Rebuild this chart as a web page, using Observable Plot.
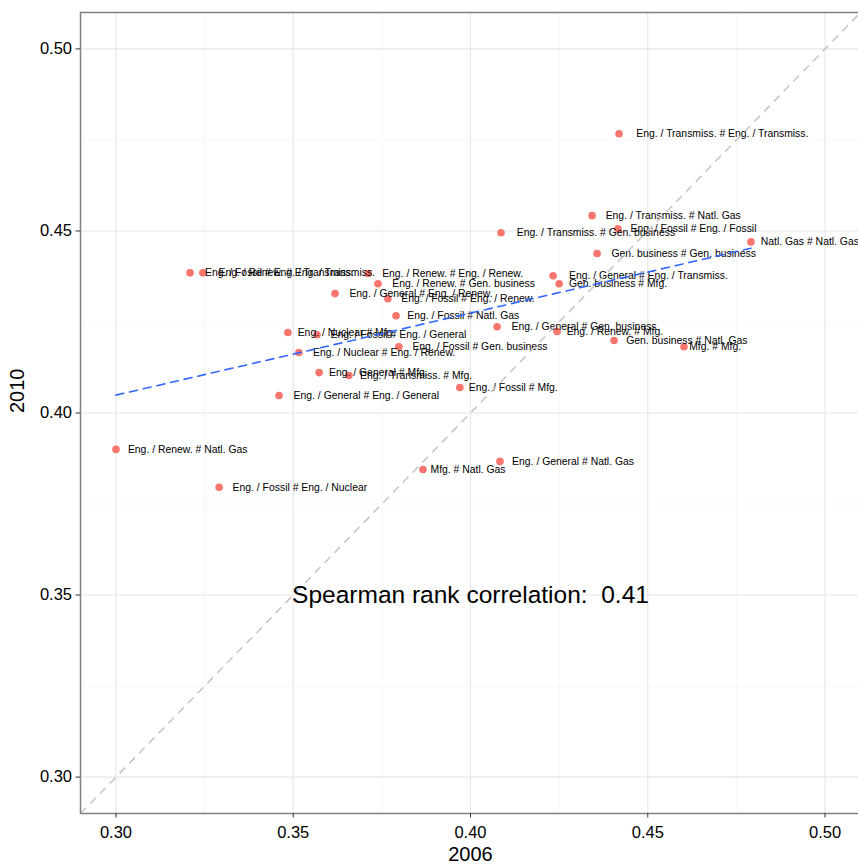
<!DOCTYPE html>
<html>
<head>
<meta charset="utf-8">
<script src="https://cdn.jsdelivr.net/npm/d3@7"></script>
<script src="https://cdn.jsdelivr.net/npm/@observablehq/plot@0.6"></script>
<style>
  html, body { margin: 0; padding: 0; background: #fff; overflow: hidden; }
  #chart svg { display: block; max-width: none !important; }
</style>
</head>
<body>
<div id="chart"></div>
<script>
// Category pairs and their scores in 2006 and 2010
const pairs = [
  "Eng. / Transmiss. # Eng. / Transmiss.",
  "Eng. / Transmiss. # Natl. Gas",
  "Eng. / Transmiss. # Gen. business",
  "Eng. / Fossil # Eng. / Fossil",
  "Natl. Gas # Natl. Gas",
  "Gen. business # Gen. business",
  "Eng. / Fossil # Eng. / Transmiss.",
  "Eng. / Renew. # Eng. / Transmiss.",
  "Eng. / Renew. # Eng. / Renew.",
  "Eng. / Renew. # Gen. business",
  "Eng. / General # Eng. / Renew.",
  "Eng. / Fossil # Eng. / Renew.",
  "Eng. / Fossil # Natl. Gas",
  "Eng. / General # Eng. / Transmiss.",
  "Gen. business # Mfg.",
  "Eng. / Nuclear # Mfg.",
  "Eng. / Fossil # Eng. / General",
  "Eng. / Nuclear # Eng. / Renew.",
  "Eng. / Fossil # Gen. business",
  "Eng. / General # Gen. business",
  "Eng. / Renew. # Mfg.",
  "Gen. business # Natl. Gas",
  "Mfg. # Mfg.",
  "Eng. / General # Mfg.",
  "Eng. / Transmiss. # Mfg.",
  "Eng. / General # Eng. / General",
  "Eng. / Fossil # Mfg.",
  "Eng. / Renew. # Natl. Gas",
  "Eng. / Fossil # Eng. / Nuclear",
  "Mfg. # Natl. Gas",
  "Eng. / General # Natl. Gas"
];
const score2006 = [
  0.4419, 0.4343, 0.4086, 0.4416, 0.4791, 0.4357, 0.3209, 0.3245,
  0.3711, 0.3739, 0.3618, 0.3767, 0.3790, 0.4233, 0.4250, 0.3485,
  0.3567, 0.3516, 0.3798, 0.4075, 0.4244, 0.4405, 0.4602, 0.3573,
  0.3657, 0.3460, 0.3970, 0.3000, 0.3291, 0.3866, 0.4083
];
const score2010 = [
  0.4767, 0.4542, 0.4495, 0.4506, 0.4470, 0.4438, 0.4385, 0.4385,
  0.4383, 0.4355, 0.4328, 0.4314, 0.4267, 0.4377, 0.4355, 0.4221,
  0.4215, 0.4166, 0.4182, 0.4237, 0.4224, 0.4199, 0.4182, 0.4111,
  0.4103, 0.4048, 0.4070, 0.3900, 0.3796, 0.3845, 0.3867
];
const majorTicks = [0.30, 0.35, 0.40, 0.45, 0.50];
const minorTicks = [0.325, 0.375, 0.425, 0.475];
const axisRange = [0.29, 0.51];
const spearman = 0.41;

const data = pairs.map((label, i) => ({label, x: score2006[i], y: score2010[i]}));

const FONT = '"Liberation Sans", Arial, Helvetica, sans-serif';
const labelSize = 10.4;

// Labels sit to the right of each point, nudged by a tenth of their own width
const ctx = document.createElement("canvas").getContext("2d");
ctx.font = `${labelSize}px ${FONT}`;
const textWidth = (s) => ctx.measureText(s).width;

const labelMarks = data.map(d => Plot.text([d], {
  x: "x", y: "y", text: "label",
  textAnchor: "start", lineAnchor: "middle",
  dx: 0.1 * textWidth(d.label),
  fontSize: labelSize, fill: "#000"
}));

const chart = Plot.plot({
  width: 862,
  height: 865,
  marginLeft: 80,
  marginRight: 2,
  marginTop: 12,
  marginBottom: 52,
  style: {fontFamily: FONT, background: "#fff", overflow: "visible", maxWidth: "none"},
  x: {domain: axisRange},
  y: {domain: axisRange},
  marks: [
    Plot.gridX(minorTicks, {stroke: "#f2f2f2", strokeOpacity: 1, strokeWidth: 0.6}),
    Plot.gridY(minorTicks, {stroke: "#f2f2f2", strokeOpacity: 1, strokeWidth: 0.6}),
    Plot.gridX(majorTicks, {stroke: "#e6e6e6", strokeOpacity: 1, strokeWidth: 1.1}),
    Plot.gridY(majorTicks, {stroke: "#e6e6e6", strokeOpacity: 1, strokeWidth: 1.1}),
    Plot.dot(data, {x: "x", y: "y", r: 3.8, fill: "#F8766D", stroke: "none"}),
    ...labelMarks,
    // identity reference line y = x
    Plot.link([axisRange], {
      x1: d => d[0], y1: d => d[0], x2: d => d[1], y2: d => d[1],
      stroke: "#c4c4c4", strokeWidth: 1.5, strokeDasharray: "8,6"
    }),
    Plot.linearRegressionY(data, {
      x: "x", y: "y", ci: 0,
      stroke: "#3366FF", strokeWidth: 1.6, strokeDasharray: "8,6"
    }),
    Plot.text([`Spearman rank correlation:\u00a0 ${spearman.toFixed(2)}`], {
      x: 0.40, y: 0.35, text: d => d, fontSize: 24.5, fill: "#000",
      textAnchor: "middle", lineAnchor: "middle"
    }),
    Plot.frame({stroke: "#808080", strokeWidth: 1.5}),
    Plot.axisX(majorTicks, {
      tickFormat: d3.format(".2f"), tickSize: 4.5, tickPadding: 8,
      fontSize: 16.5, stroke: "#333", color: "#000", label: null
    }),
    Plot.axisY(majorTicks, {
      tickFormat: d3.format(".2f"), tickSize: 4.5, tickPadding: 4,
      fontSize: 16.5, stroke: "#333", color: "#000", label: null
    }),
    Plot.text(["2006"], {frameAnchor: "bottom", text: d => d, dy: 41, fontSize: 20, fill: "#000", lineAnchor: "middle"}),
    Plot.text(["2010"], {frameAnchor: "left", text: d => d, dx: -63, rotate: -90, fontSize: 20, fill: "#000", lineAnchor: "middle"})
  ]
});
document.getElementById("chart").appendChild(chart);
</script>
</body>
</html>
